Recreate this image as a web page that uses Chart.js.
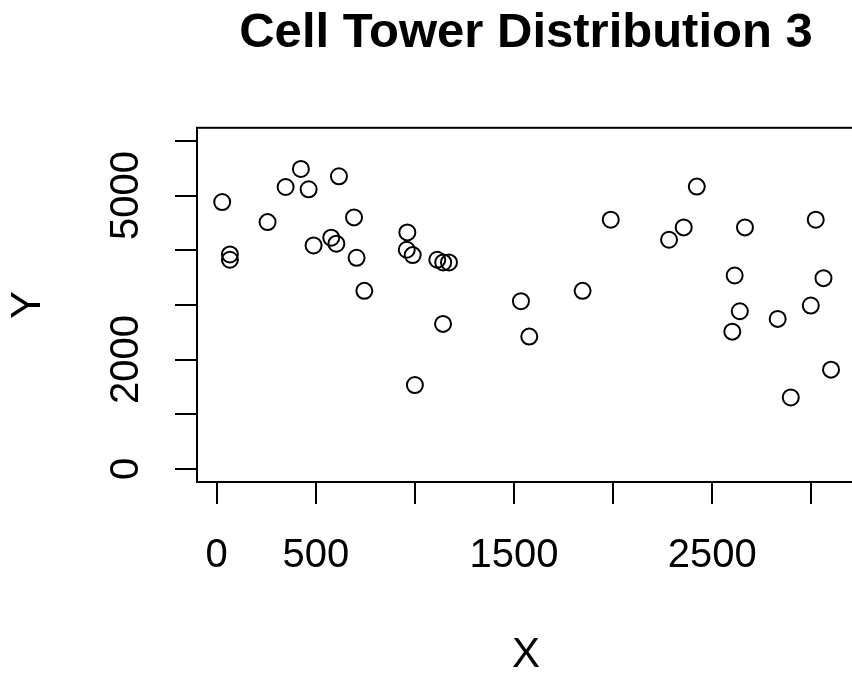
<!DOCTYPE html>
<html>
<head>
<meta charset="utf-8">
<title>Cell Tower Distribution 3</title>
<script src="https://cdn.jsdelivr.net/npm/chart.js@4/dist/chart.umd.min.js"></script>
<style>
    html, body { margin: 0; padding: 0; background: #fff; overflow: hidden; }
    #wrap { width: 852px; height: 677px; overflow: hidden; }
    #wrap canvas { display: block; }
</style>
</head>
<body>
<div id="wrap"><canvas id="chart" width="1052" height="677"></canvas></div>
<script>
// Tower positions
const towerX = [28, 67, 67, 257, 348, 425, 464, 617, 489, 578, 604, 693, 706, 745, 962, 959, 989,
    1113, 1143, 1172, 1142, 1000, 1535, 1577, 1846, 1988, 2422, 2356, 2282, 2665, 2613, 2639,
    2601, 2830, 3022, 3061, 2997, 3099, 2896];
const towerY = [4882, 3923, 3826, 4515, 5157, 5487, 5115, 5353, 4088, 4229, 4119, 4601, 3862, 3257, 4326, 4009, 3911,
    3826, 3776, 3776, 2652, 1534, 3067, 2420, 3257, 4559, 5164, 4418, 4192, 4418, 3538, 2884,
    2511, 2744, 4559, 3489, 2988, 1815, 1307];

// Axis ticks, and the labels R actually printed
const xTicks = [0, 500, 1000, 1500, 2000, 2500, 3000];
const xLabels = [0, 500, 1500, 2500];
const yTicks = [0, 1000, 2000, 3000, 4000, 5000, 6000];
const yLabels = [0, 2000, 5000];

const FONT = "'Liberation Sans', Arial, sans-serif";
Chart.defaults.color = "#000";
Chart.defaults.font.family = FONT;

// draw the full box round the plot region
const boxPlugin = {
    id: "box",
    afterDatasetsDraw(chart) {
        const { ctx, chartArea: a } = chart;
        ctx.save();
        ctx.strokeStyle = "#000";
        ctx.lineWidth = 2;
        ctx.strokeRect(a.left, a.top, a.right - a.left, a.bottom - a.top);
        ctx.restore();
    },
};

const points = towerX.map((x, i) => ({ x, y: towerY[i] }));

// canvas is wider than the window so the plot runs off the right edge like the original;
// an empty right-hand axis keeps the margin so the title stays centred over the plot
new Chart(document.getElementById("chart"), {
    type: "scatter",
    data: {
        datasets: [
            {
                data: points,
                pointStyle: "circle",
                pointRadius: 8,
                pointHoverRadius: 8,
                pointBorderWidth: 2,
                borderColor: "#000",
                backgroundColor: "rgba(0,0,0,0)",
            },
        ],
    },
    options: {
        responsive: false,
        animation: false,
        layout: { padding: 0 },
        plugins: {
            legend: { display: false },
            tooltip: { enabled: false },
            title: {
                display: true,
                text: "Cell Tower Distribution 3",
                color: "#000",
                font: { size: 49, weight: "bold", family: FONT, lineHeight: 1.2 },
                padding: { top: 4, bottom: 65 },
            },
        },
        scales: {
            x: {
                type: "linear",
                min: -99,
                max: 3220,
                afterBuildTicks: (scale) => {
                    scale.ticks = xTicks.map((v) => ({ value: v }));
                },
                afterFit: (scale) => {
                    scale.height = 195;
                },
                border: { display: false },
                grid: { drawOnChartArea: false, drawTicks: true, tickLength: 22, lineWidth: 2, color: "#000" },
                ticks: {
                    autoSkip: false,
                    maxRotation: 0,
                    padding: 28,
                    font: { size: 40, family: FONT },
                    callback: (v) => (xLabels.includes(v) ? String(v) : ""),
                },
                title: {
                    display: true,
                    text: "X",
                    font: { size: 42, family: FONT, lineHeight: 1 },
                    padding: { top: 0, bottom: 1 },
                },
            },
            y: {
                type: "linear",
                min: -240,
                max: 6240,
                afterBuildTicks: (scale) => {
                    scale.ticks = yTicks.map((v) => ({ value: v }));
                },
                afterFit: (scale) => {
                    scale.width = 197;
                },
                border: { display: false },
                grid: { drawOnChartArea: false, drawTicks: true, tickLength: 22, lineWidth: 2, color: "#000" },
                ticks: {
                    autoSkip: false,
                    minRotation: 90,
                    maxRotation: 90,
                    crossAlign: "center",
                    padding: 4,
                    font: { size: 40, family: FONT },
                    callback: (v) => (yLabels.includes(v) ? String(v) : ""),
                },
                title: {
                    display: true,
                    text: "Y",
                    font: { size: 42, family: FONT, lineHeight: 1 },
                    padding: { top: 7, bottom: 0 },
                },
            },
            margin: {
                type: "linear",
                position: "right",
                afterFit: (scale) => {
                    scale.width = 197;
                },
                border: { display: false },
                grid: { display: false },
                ticks: { display: false },
            },
        },
    },
    plugins: [boxPlugin],
});
</script>
</body>
</html>
